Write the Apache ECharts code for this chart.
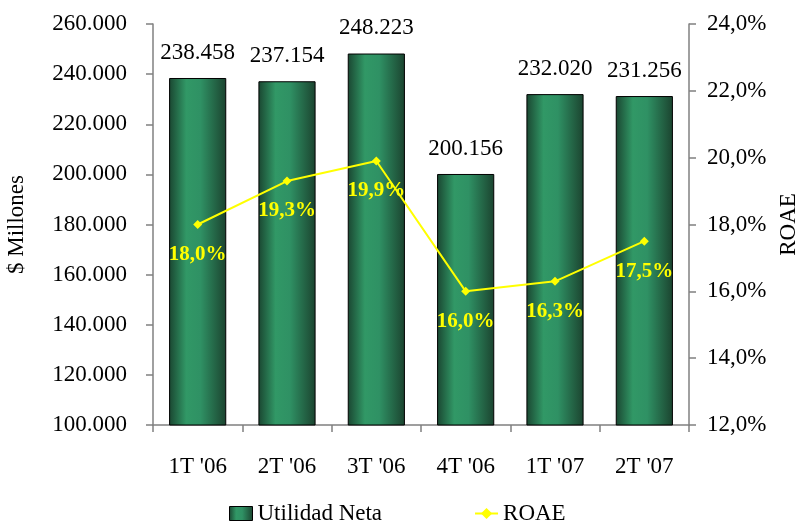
<!DOCTYPE html>
<html>
<head>
<meta charset="utf-8">
<script src="https://cdn.jsdelivr.net/npm/echarts@6/dist/echarts.min.js"></script>
<style>html,body{margin:0;padding:0;background:#fff}#c{width:800px;height:521px}</style>
</head>
<body>
<div id="c"></div>
<script>
const categories = ["1T '06", "2T '06", "3T '06", "4T '06", "1T '07", "2T '07"];
const utilidadNeta = [238458, 237154, 248223, 200156, 232020, 231256];
const roae = [18.0, 19.3, 19.9, 16.0, 16.3, 17.5];
const leftTicks = { min: 100000, max: 260000, interval: 20000 };
const rightTicks = { min: 12, max: 24, interval: 2 };

const FONT = 'Liberation Serif';
function thousands(v) {
  return String(Math.round(v)).replace(/\B(?=(\d{3})+(?!\d))/g, '.');
}
function pct(v) { return v.toFixed(1).replace('.', ',') + '%'; }

const chart = echarts.init(document.getElementById('c'), null, { renderer: 'canvas' });
const barGrad = new echarts.graphic.LinearGradient(0, 0, 1, 0, [
  { offset: 0, color: '#1a4631' },
  { offset: 0.3, color: '#319866' },
  { offset: 0.55, color: '#2f9164' },
  { offset: 1, color: '#1b432f' }
]);
const axisLineStyle = { color: '#808080', width: 1.5 };
chart.setOption({
  animation: false,
  backgroundColor: '#ffffff',
  textStyle: { fontFamily: FONT },
  grid: { left: 153, right: 111, top: 24, bottom: 96, containLabel: false, outerBoundsMode: 'none' },
  legend: {
    left: 224, top: 497,
    itemWidth: 23, itemHeight: 14, itemGap: 92,
    textStyle: { fontFamily: FONT, fontSize: 23, color: '#000' },
    data: [
      { name: 'Utilidad Neta', icon: 'rect', itemStyle: { color: barGrad, borderColor: '#000', borderWidth: 1 } },
      { name: 'ROAE' }
    ]
  },
  xAxis: {
    type: 'category',
    data: categories,
    axisLine: { lineStyle: axisLineStyle },
    axisTick: { show: true, length: 7, lineStyle: axisLineStyle },
    axisLabel: { fontFamily: FONT, fontSize: 23, color: '#000', margin: 30 }
  },
  yAxis: [
    {
      type: 'value', min: leftTicks.min, max: leftTicks.max, interval: leftTicks.interval,
      name: '$ Millones', nameLocation: 'middle', nameGap: 125, nameRotate: 90,
      nameTextStyle: { fontFamily: FONT, fontSize: 23, color: '#000' },
      axisLine: { show: true, lineStyle: axisLineStyle },
      axisTick: { show: true, length: 7, lineStyle: axisLineStyle },
      splitLine: { show: false },
      axisLabel: { fontFamily: FONT, fontSize: 23, color: '#000', margin: 26, formatter: thousands }
    },
    {
      type: 'value', min: rightTicks.min, max: rightTicks.max, interval: rightTicks.interval,
      name: 'ROAE', nameLocation: 'middle', nameGap: 86, nameRotate: 90,
      nameTextStyle: { fontFamily: FONT, fontSize: 23, color: '#000' },
      axisLine: { show: true, lineStyle: axisLineStyle },
      axisTick: { show: true, length: 7, lineStyle: axisLineStyle },
      splitLine: { show: false },
      axisLabel: { fontFamily: FONT, fontSize: 23, color: '#000', margin: 18, formatter: pct }
    }
  ],
  series: [
    {
      name: 'Utilidad Neta', type: 'bar', yAxisIndex: 0,
      data: utilidadNeta, barCategoryGap: '36%',
      itemStyle: { color: barGrad, borderColor: '#000', borderWidth: 1 },
      label: { show: true, position: 'top', distance: 14, fontFamily: FONT, fontSize: 23, color: '#000',
        formatter: p => thousands(p.value) }
    },
    {
      name: 'ROAE', type: 'line', yAxisIndex: 1, data: roae,
      symbol: 'diamond', symbolSize: 9,
      lineStyle: { color: '#ffff00', width: 2 },
      itemStyle: { color: '#ffff00' },
      label: { show: true, position: 'bottom', distance: 15, fontFamily: FONT, fontSize: 21, fontWeight: 'bold', color: '#ffff00',
        formatter: p => pct(p.value) },
      z: 5
    }
  ]
});
</script>
</body>
</html>
